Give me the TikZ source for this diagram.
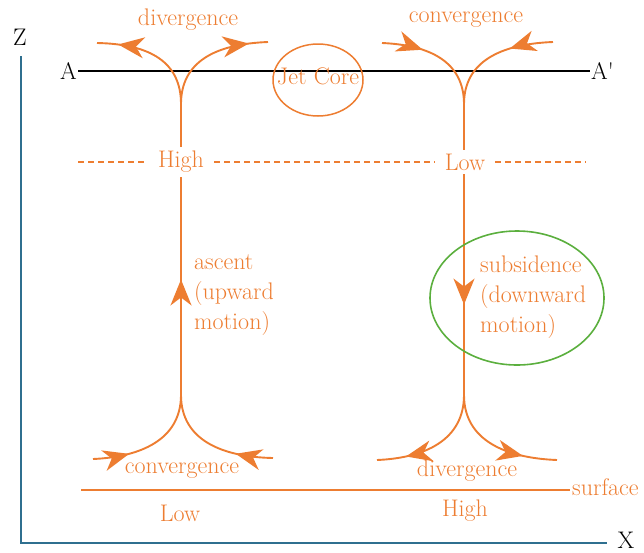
\documentclass[tikz,border=0pt]{standalone}
\usetikzlibrary{arrows.meta,decorations.markings}
\definecolor{org}{HTML}{ED7D31}
\definecolor{axb}{HTML}{2F6F8F}
\definecolor{grn}{HTML}{5BAF3E}
\begin{document}
\begin{tikzpicture}[x=1pt,y=-1pt,
  font=\fontsize{24}{28}\selectfont,
  flow/.style={draw=org, line width=1.9pt},
  lbl/.style={text=org, inner sep=1pt},
  gap/.style={text=org, inner xsep=10pt, inner ysep=4pt},
  multi/.style={text=org, align=left, inner sep=0pt, font=\fontsize{24}{30}\selectfont},
  midarrow/.style={postaction={decorate}, decoration={markings,
     mark=at position #1 with {\arrow{Stealth[length=26pt,width=21pt,inset=8pt]}}}}]
\useasboundingbox (0,0) rectangle (644,552);

% axes
\node[inner sep=0pt] (Z) at (20,37) {Z};
\node[inner sep=0pt] (X) at (626,540) {X};
\coordinate (ztop) at (21,56);
\coordinate (O) at (21,543);
\coordinate (xend) at (607,543);
\draw[axb, line width=2.4pt] (ztop) -- (O) -- (xend);

% A - A' line
\node[inner sep=1pt, anchor=east] (A) at (78,71) {A};
\node[inner sep=1pt, anchor=west] (Ap) at (590,71) {A\textquotesingle};
\draw[line width=2.4pt] (A.east) -- (Ap.west);

% jet core
\node[lbl] (jet) at (318,76) {Jet Core};
\draw[org, line width=1.5pt] (318,80) ellipse [x radius=45pt, y radius=36pt];

% top labels
\node[lbl] (divT) at (188,20) {divergence};
\node[lbl] (convT) at (466,20) {convergence};

% dashed level
\node[gap] (H1) at (181,162) {High};
\node[gap] (L1) at (465,162) {Low};
\coordinate (dl) at (78,162);
\coordinate (dr) at (586,162);
\draw[org, line width=1.3pt, dash pattern=on 6pt off 4pt] (dl) -- (H1.west);
\draw[org, line width=1.3pt, dash pattern=on 6pt off 4pt] (H1.east) -- (L1.west);
\draw[org, line width=1.3pt, dash pattern=on 6pt off 4pt] (L1.east) -- (dr);

% left column (ascent)
\coordinate (Ls) at (181,104);
\coordinate (Lb) at (181,395);
\coordinate (LtL) at (97,43);
\coordinate (LtR) at (268,42);
\coordinate (LbL) at (93,459);
\coordinate (LbR) at (273,458);
\draw[flow] (H1.north) -- (Ls);
\draw[flow, midarrow=0.82] (Ls) .. controls (181,62) and (150,44) .. (LtL);
\draw[flow, midarrow=0.84] (Ls) .. controls (181,62) and (215,44) .. (LtR);
\draw[flow, midarrow=0.53] (Lb) -- (H1.south);
\draw[flow, midarrow=0.3] (LbL) .. controls (140,457) and (181,440) .. (Lb);
\draw[flow, midarrow=0.3] (LbR) .. controls (222,457) and (181,440) .. (Lb);

% right column (subsidence)
\coordinate (Rs) at (464,104);
\coordinate (Rb) at (464,395);
\coordinate (RtL) at (382,43);
\coordinate (RtR) at (553,42);
\coordinate (RbL) at (377,460);
\coordinate (RbR) at (557,460);
\draw[flow] (L1.north -| Rs) -- (Rs);
\draw[flow, midarrow=0.36] (RtL) .. controls (430,45) and (464,62) .. (Rs);
\draw[flow, midarrow=0.36] (RtR) .. controls (500,44) and (464,62) .. (Rs);
\draw[flow, midarrow=0.59] (L1.south -| Rs) -- (Rb);
\draw[flow, midarrow=0.76] (Rb) .. controls (464,440) and (425,458) .. (RbL);
\draw[flow, midarrow=0.73] (Rb) .. controls (464,440) and (505,458) .. (RbR);

% side labels
\node[multi, anchor=west] (asc) at (194,295) {ascent\\(upward\\motion)};
\node[multi, anchor=west] (sub) at (480,297) {subsidence\\(downward\\motion)};
\draw[grn, line width=1.6pt] (517,298) ellipse [x radius=87pt, y radius=67pt];

% surface
\node[lbl] (convB) at (182,471) {convergence};
\node[lbl] (divB) at (467,471) {divergence};
\node[lbl, anchor=west, inner sep=2pt] (surf) at (570,487) {surface};
\coordinate (sl) at (81,490);
\draw[org, line width=2.2pt] (sl) -- (surf.west |- sl);
\node[lbl] (lowB) at (180,513) {Low};
\node[lbl] (highB) at (465,511) {High};
\end{tikzpicture}
\end{document}
